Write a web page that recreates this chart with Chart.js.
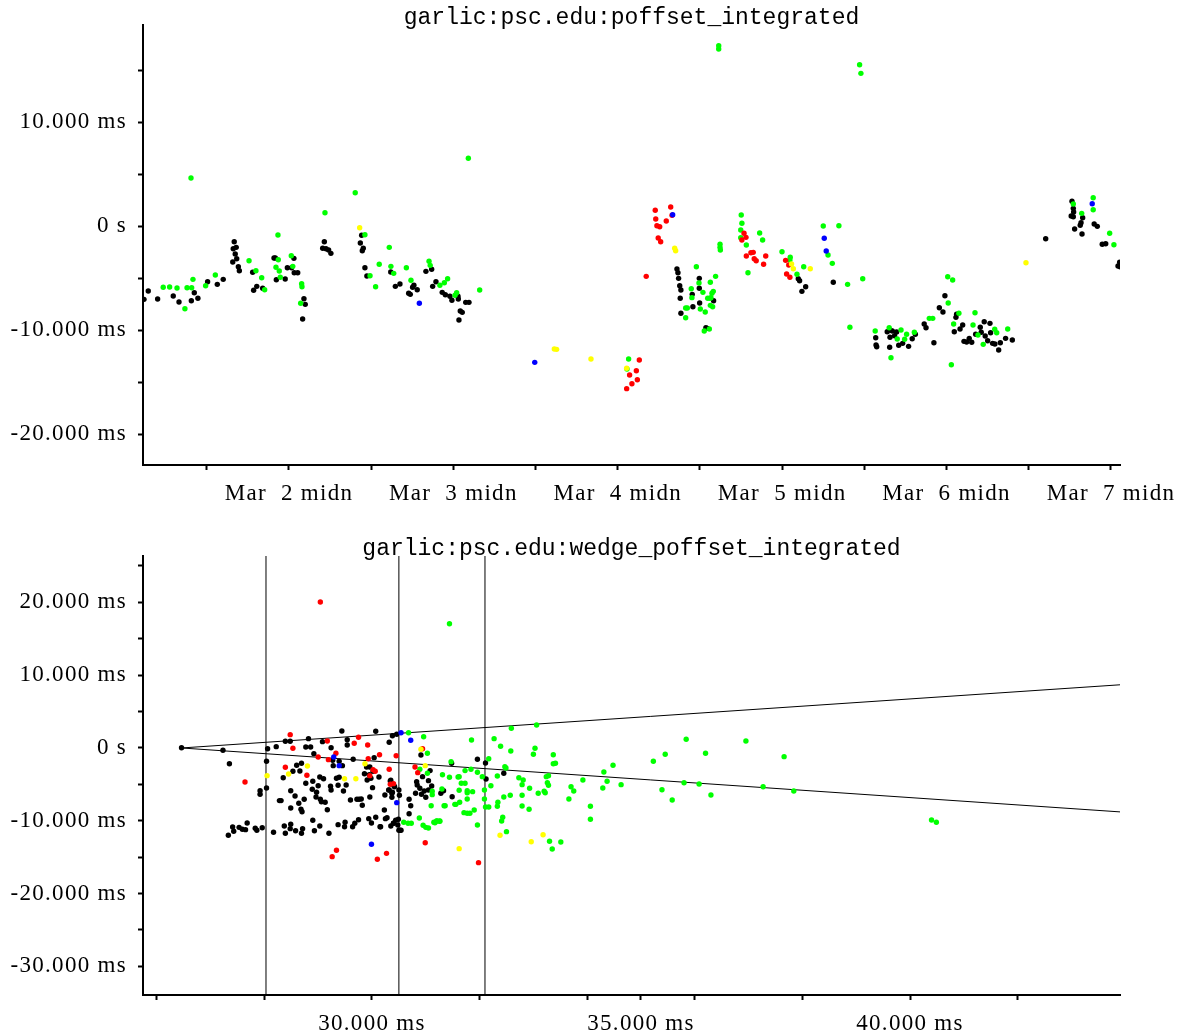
<!DOCTYPE html>
<html><head><meta charset="utf-8">
<script src="https://cdn.jsdelivr.net/npm/chart.js@4.4.1/dist/chart.umd.min.js"></script>
<style>
html,body{margin:0;padding:0;background:#fff;}
body{width:1179px;height:1035px;position:relative;overflow:hidden;}
canvas{position:absolute;left:0;}
#c1{top:0;width:1179px;height:510px;}
#c2{top:530px;width:1179px;height:505px;}
</style></head><body>
<canvas id="c1" width="1179" height="510"></canvas>
<canvas id="c2" width="1179" height="505"></canvas>
<script>
// ---------- top chart: time (days since Mar 1 00:00) vs offset (ms) ----------
const topTitle = "garlic:psc.edu:poffset_integrated";
const topXRange = [0.112, 6.055];
const topYRange = [-22.98, 19.33];
const topXTicks = [0.5,1,1.5,2,2.5,3,3.5,4,4.5,5,5.5,6];
const topXLabelValues = [1,2,3,4,5,6];
const topXLabels = ["Mar  2 midn","Mar  3 midn","Mar  4 midn","Mar  5 midn","Mar  6 midn","Mar  7 midn"];
const topYTicks = [-20,-15,-10,-5,0,5,10,15];
const topYLabelValues = [-20,-10,0,10];
const topYLabels = ["-20.000 ms","-10.000 ms","0 s","10.000 ms"];

const topBlack = [
[0.118,-7.05],[0.144,-6.25],[0.201,-7.02],[0.296,-6.73],[0.331,-7.31],[0.406,-7.18],[0.424,-6.41],[0.446,-6.95],[0.505,-5.36],[0.564,-5.61],[0.600,-5.13],[0.667,-1.51],[0.661,-2.18],[0.679,-2.05],[0.673,-2.69],[0.682,-3.14],[0.658,-3.46],[0.692,-3.91],[0.698,-4.30],[0.779,-4.45],[0.804,-5.80],[0.785,-6.18],[0.840,-5.99],[0.909,-3.08],[0.917,-3.08],[0.923,-5.16],[0.977,-5.10],[0.990,-4.01],[1.016,-4.01],[1.030,-3.11],[1.032,-4.49],[1.053,-4.49],[1.083,-8.94],[1.091,-6.99],[1.099,-7.53],[1.215,-1.51],[1.205,-2.14],[1.225,-2.18],[1.241,-2.31],[1.255,-2.63],[1.442,-0.89],[1.434,-1.63],[1.452,-2.14],[1.446,-2.38],[1.462,-4.01],[1.474,-4.81],[1.619,-4.42],[1.647,-5.80],[1.675,-5.58],[1.728,-6.47],[1.738,-6.57],[1.752,-5.89],[1.760,-5.70],[1.780,-6.13],[1.833,-4.36],[1.868,-4.16],[1.874,-5.80],[1.894,-5.36],[1.932,-6.38],[1.951,-6.61],[1.979,-6.76],[1.991,-7.14],[2.028,-6.76],[2.030,-7.02],[2.034,-9.04],[2.042,-8.17],[2.054,-8.30],[2.075,-7.34],[2.095,-7.34],
[3.360,-4.13],[3.366,-4.49],[3.370,-5.03],[3.377,-5.74],[3.384,-6.15],[3.380,-6.95],[3.384,-8.39],[3.453,-6.57],[3.457,-7.76],[3.496,-5.03],[3.496,-5.99],[3.498,-7.40],[3.536,-9.78],[3.544,-9.84],[3.583,-7.18],[4.098,-5.07],[4.106,-5.26],[4.143,-5.84],[4.120,-6.28],[4.311,-5.41],[4.569,-10.74],[4.571,-11.44],[4.575,-11.61],
[4.639,-10.16],[4.656,-10.00],[4.670,-10.10],[4.696,-10.19],[4.656,-10.70],[4.684,-10.55],[4.654,-11.66],[4.709,-11.47],[4.733,-11.28],[4.769,-11.57],[4.791,-10.84],[4.810,-10.41],[4.864,-9.42],[4.875,-9.78],[4.923,-11.22],[4.956,-7.86],[4.978,-8.27],[4.990,-6.70],[5.061,-8.49],[5.057,-8.78],[5.098,-9.52],[5.082,-9.90],[5.047,-10.16],[5.106,-11.09],[5.122,-11.15],[5.138,-10.80],[5.153,-11.18],[5.177,-10.41],[5.205,-9.74],[5.211,-10.22],[5.229,-9.20],[5.264,-9.36],[5.235,-10.58],[5.250,-11.03],[5.268,-10.26],[5.280,-11.28],[5.294,-11.35],[5.317,-11.92],[5.327,-11.22],[5.359,-10.80],[5.400,-10.96],
[5.603,-1.22],[5.763,2.38],[5.771,1.70],[5.773,1.35],[5.758,0.96],[5.771,0.89],[5.828,0.80],[5.818,0.32],[5.813,0.07],[5.779,-0.29],[5.824,-0.77],[5.898,0.19],[5.917,-0.03],[5.947,-1.76],[5.968,-1.70],[6.053,-3.49],[6.043,-3.85],[6.056,-3.92]
];
const topGreen = [
[0.404,4.62],[0.235,-5.89],[0.274,-5.87],[0.319,-5.96],[0.367,-7.95],[0.380,-5.93],[0.408,-5.93],[0.416,-5.13],[0.493,-5.74],[0.552,-4.71],[0.757,-3.34],[0.799,-4.30],[0.834,-4.97],[0.852,-6.13],[0.933,-0.87],[0.935,-3.24],[0.921,-3.97],[0.941,-4.33],[0.947,-4.93],[1.014,-2.86],[1.023,-3.88],[1.077,-5.55],[1.079,-5.84],[1.071,-7.43],[1.219,1.28],[1.403,3.20],[1.462,-0.84],[1.493,-4.78],[1.527,-5.84],[1.549,-3.68],[1.610,-2.05],[1.620,-3.88],[1.637,-4.55],[1.714,-4.01],[1.742,-5.22],[1.852,-3.39],[1.859,-3.78],[1.918,-5.70],[1.945,-5.45],[1.965,-5.07],[2.010,-6.66],[2.020,-6.41],[2.091,6.51],[2.160,-6.15],
[3.066,-12.79],[3.056,-13.75],[3.614,17.34],[3.614,17.02],[4.471,15.51],[4.479,14.68],[3.622,-1.76],[3.624,-2.31],[3.622,-2.05],[3.478,-3.91],[3.595,-4.84],[3.563,-5.41],[3.494,-5.48],[3.447,-6.03],[3.518,-6.38],[3.581,-6.28],[3.573,-6.47],[3.451,-6.89],[3.547,-6.95],[3.561,-6.95],[3.567,-6.89],[3.563,-7.63],[3.577,-7.76],[3.413,-7.88],[3.423,-7.88],[3.502,-7.98],[3.532,-8.27],[3.413,-8.82],[3.526,-10.10],[3.557,-9.90],[3.751,1.06],[3.755,0.26],[3.748,-0.38],[3.748,-1.13],[3.782,-1.83],[3.792,-4.49],[3.863,-0.67],[3.881,-1.35],[3.999,-2.47],[4.049,-3.01],[4.047,-3.27],[4.090,-4.64],[4.131,-3.91],[4.250,0.00],[4.345,0.03],[4.279,-2.79],[4.305,-3.59],[4.398,-5.61],[4.490,-5.07],[4.412,-9.74],[4.566,-10.10],
[4.651,-9.78],[4.662,-12.66],[4.723,-10.00],[4.700,-10.87],[4.757,-10.41],[4.745,-10.89],[4.804,-10.22],[4.895,-8.88],[4.916,-8.88],[5.007,-4.88],[5.037,-5.19],[5.010,-7.40],[5.075,-8.39],[5.043,-9.42],[5.029,-13.34],[5.173,-8.34],[5.161,-9.52],[5.191,-10.48],[5.223,-11.38],[5.293,-9.93],[5.305,-10.26],[5.372,-9.90],[5.892,2.72],[5.892,1.57],[5.771,2.12],[5.822,1.22],[5.992,-0.70],[6.018,-1.80]
];
const topRed = [
[3.054,-15.64],[3.086,-15.16],[3.119,-14.78],[3.072,-14.33],[3.113,-13.91],[3.131,-12.88],[3.173,-4.84],[3.228,1.51],[3.231,0.67],[3.238,0.03],[3.255,-0.07],[3.246,-1.15],[3.261,-1.51],[3.295,0.48],[3.322,1.83],[3.330,1.03],[3.768,-0.70],[3.755,-1.35],[3.780,-1.09],[3.810,-2.57],[3.824,-2.53],[3.782,-2.88],[3.830,-3.14],[3.842,-3.34],[3.900,-2.88],[3.887,-3.68],[4.021,-3.30],[4.040,-3.75],[4.027,-4.62],[4.047,-4.93]
];
const topYellow = [
[1.430,-0.16],[2.614,-11.83],[2.628,-11.86],[2.837,-12.79],[3.054,-13.68],[3.346,-2.14],[3.352,-2.38],[4.068,-4.11],[4.171,-4.11],[5.483,-3.53],[4.057,-3.65]
];
const topBlue = [
[1.793,-7.43],[2.495,-13.11],[3.334,1.09],[4.256,-1.18],[4.268,-2.40],[5.886,2.14]
];

// ---------- bottom chart: delay (ms) vs offset (ms) ----------
const botTitle = "garlic:psc.edu:wedge_poffset_integrated";
const botXRange = [25.744, 43.903];
const botYRange = [-33.93, 26.37];
const botXTicks = [26,28,30,32,34,35,36,38,40,42];
const botXLabelValues = [30,35,40];
const botXLabels = ["30.000 ms","35.000 ms","40.000 ms"];
const botYTicks = [-30,-25,-20,-15,-10,-5,0,5,10,15,20,25];
const botYLabelValues = [-30,-20,-10,0,10,20];
const botYLabels = ["-30.000 ms","-20.000 ms","-10.000 ms","0 s","10.000 ms","20.000 ms"];
const markerDelays = [28.03, 30.5, 32.1];
const wedgeUpper = [[26.46,0],[43.903,8.68]];
const wedgeLower = [[26.46,0],[43.903,-8.78]];

const botBlack = [
[26.46,0.04],[27.23,-0.32],[27.35,-2.16],[28.04,-1.83],[28.06,-0.1],[28.22,0.18],[28.39,0.92],[28.48,0.92],[28.82,1.28],[28.77,0.14],[28.86,0.14],[28.92,-0.78],[29.08,0.87],[29.44,2.34],[29.54,1.14],[29.54,0.41],[29.24,0.04],[29.27,-1.69],[29.28,-2.43],[29.39,-1.83],[29.45,-2.43],[29.65,-1.55],[30.07,2.29],[30.32,0.78],[30.38,1.69],[30.46,1.88],[30.04,-1.33],[29.90,-2.61],[29.96,-2.61],[30.02,-3.2],[30.13,-3.98],[29.86,-3.53],[29.95,-3.67],[29.91,-4.4],[29.98,-4.16],[30.34,-4.53],[30.42,-5.32],[30.50,-5.77],[30.51,-6.5],[30.32,-5.77],[30.37,-6.22],[30.24,-6.46],[30.23,-8.52],[30.28,-9.57],[30.25,-9.71],[30.40,-10.34],[30.44,-9.93],[30.49,-9.79],[30.50,-11.31],[30.54,-11.31],[30.35,-10.71],[30.16,-10.81],[30.07,-9.52],[29.94,-9.71],[29.99,-10.3],[29.75,-9.85],[29.68,-10.34],[29.64,-10.81],[29.50,-10.21],[29.49,-10.81],[29.37,-10.53],[29.20,-11.72],[29.03,-10.71],[28.93,-11.36],[28.90,-9.93],[28.71,-11.08],[28.69,-11.72],[28.58,-11.36],[28.49,-10.48],[28.48,-11.08],[28.39,-11.72],[28.37,-10.71],[28.17,-11.58],[27.96,-10.95],[27.86,-11.31],[27.83,-11.03],[27.68,-10.3],[27.65,-11.22],[27.59,-11.17],[27.53,-10.9],[27.43,-11.44],[27.41,-10.85],[27.33,-11.99],
[27.92,-5.87],[27.92,-6.36],[28.04,-5.49],[28.28,-7.23],[28.31,-7.23],[28.35,-4.08],[28.49,-5.87],[28.53,-3.2],[28.60,-2.38],[28.69,-2.1],[28.66,-3.16],[28.57,-6.59],[28.64,-7.6],[28.49,-8.24],[28.74,-7.05],[28.68,-8.42],[28.70,-8.75],[28.77,-4.85],[28.90,-4.58],[28.89,-5.67],[28.97,-6.09],[29.03,-3.98],[29.10,-4.22],[29.00,-5.18],[28.96,-6.73],[29.04,-7.05],[29.06,-7.38],[29.13,-7.46],[29.17,-8.48],[29.23,-5.26],[29.24,-5.77],[29.34,-4.16],[29.39,-4.02],[29.37,-5.12],[29.47,-5.91],[29.52,-5.08],[29.60,-7.14],[29.72,-7.05],[29.76,-7.05],[29.80,-7.0],[29.82,-7.87],[29.96,-6.73],[30.01,-5.45],
[30.69,-7.05],[30.72,-7.93],[30.69,-9.03],[30.81,-6.22],[30.83,-4.63],[30.84,-5.08],[30.92,-6.36],[30.89,-5.54],[31.00,-6.77],[30.97,-5.91],[31.05,-5.77],[30.94,-3.94],[31.05,-4.49],[31.08,-3.11],[30.91,-0.96],[31.11,-5.22],[31.28,-6.22],[31.48,-2.1],[31.49,-6.69],[31.33,-5.87],[31.96,-1.55],[32.11,-2.06],[32.12,-4.26],[32.45,-3.48],[30.35,-4.44],[30.38,-4.95],[30.41,-5.22],[30.31,-5.77],[30.38,-6.09],[30.37,-6.77],[30.48,-10.58],[30.52,-11.31],[30.40,-10.34],[30.15,-10.81]
];
const botGreen = [
[31.44,17.07],[30.68,2.1],[30.96,1.55],[31.03,-0.73],[30.89,-2.93],[31.03,-3.48],[31.31,-3.67],[31.44,-4.02],[31.60,-3.98],[31.47,-1.88],[31.12,-5.95],[31.12,-6.41],[31.30,-5.63],[31.34,-7.93],[31.10,-7.93],[31.54,-7.74],[30.88,-9.62],[30.95,-10.62],[31.0,-10.9],[31.05,-11.0],[30.59,-10.21],[30.67,-10.34],[30.73,-10.34],[31.15,-10.21],[31.20,-10.03],[31.26,-10.07],
[31.85,1.1],[32.27,1.28],[32.39,0.23],[32.58,-0.41],[32.59,2.71],[33.06,3.16],[33.03,-0.04],[33.0,-0.87],[33.37,-0.92],[33.37,-2.16],[33.41,-2.1],[32.17,-1.47],[32.47,-2.57],[32.49,-2.75],[31.96,-3.34],[31.73,-3.11],[31.84,-2.93],[31.62,-3.94],[32.05,-3.94],[32.33,-3.85],[31.66,-4.85],[31.73,-4.85],[31.77,-5.87],[31.77,-6.14],[31.87,-6.0],[31.62,-5.81],[32.21,-5.18],[32.09,-5.77],[32.73,-4.08],[32.81,-4.4],[32.79,-5.04],[32.93,-5.54],[33.24,-3.94],[33.28,-3.8],[33.26,-4.77],[33.28,-5.12],[33.09,-6.22],[33.20,-5.95],[33.22,-6.14],[32.57,-6.5],[32.45,-6.73],[32.34,-7.46],[32.33,-8.01],[32.09,-7.0],[32.11,-8.1],[32.17,-8.1],[32.79,-6.5],[32.79,-7.97],[32.92,-8.42],[31.77,-7.0],[31.63,-7.46],[31.56,-7.74],[31.36,-7.93],[31.71,-8.88],[31.77,-8.97],[31.82,-8.97],[31.90,-8.52],[31.96,-10.58],[32.43,-9.52],[32.41,-10.03],[32.50,-11.49],[31.21,-10.03],[31.26,-10.03],[31.17,-10.26],[33.30,-12.82],[33.35,-13.87],[33.51,-12.91],[33.70,-5.32],[33.75,-5.91],[33.66,-7.0],[33.92,-4.4],[34.06,-8.01],[34.06,-9.79],[34.29,-5.49],[34.31,-3.3],[34.37,-4.58],[34.48,-2.38],[34.63,-5.04],[35.23,-1.83],[35.45,-0.87],[35.39,-5.73],[35.58,-7.14],[35.84,1.19],[35.80,-4.77],[36.08,-4.95],[36.20,-0.73],[36.30,-6.46],[36.95,0.96],[37.66,-1.19],[37.27,-5.32],[37.84,-5.91],[40.40,-9.89],[40.49,-10.21]
];
const botRed = [
[29.04,20.05],[28.48,1.83],[28.53,-0.04],[29.17,0.96],[29.0,-1.24],[29.33,-0.73],[29.19,-1.6],[29.67,0.64],[29.75,1.47],[29.92,0.41],[29.93,-1.47],[30.14,-0.92],[30.45,-1.06],[30.94,-0.1],[30.80,-2.61],[30.85,-3.39],[30.32,-2.93],[30.40,-4.9],[30.34,-4.99],[30.06,-3.2],[30.02,-2.98],[29.96,-3.8],[28.79,-3.75],[28.39,-2.65],[27.64,-4.67],[30.99,-13.01],[29.26,-14.93],[29.34,-14.05],[30.10,-15.29],[30.27,-14.47],[31.98,-15.75]
];
const botYellow = [
[28.05,-3.8],[28.45,-3.57],[28.80,-2.47],[29.49,-4.22],[29.70,-4.22],[29.87,-2.16],[30.91,-0.18],[30.99,-2.43],[31.62,-13.83],[32.38,-11.99],[33.18,-11.91],[32.96,-12.87]
];
const botBlue = [
[29.29,-1.24],[29.39,-2.43],[30.54,2.1],[30.72,1.06],[30.46,-7.51],[29.99,-13.23]
];

// ---------- styling ----------
const TICK_FONT = {family: "'Liberation Serif', 'Times New Roman', serif", size: 23};
const TITLE_FONT = "23px 'Liberation Mono', 'Courier New', monospace";
const COLORS = {black:'#000000', green:'#00ff00', red:'#ff0000', yellow:'#ffff00', blue:'#0000ff'};
const toXY = arr => arr.map(p => ({x:p[0], y:p[1]}));

function pts(data, color){
  return {data: toXY(data), backgroundColor: color, borderWidth: 0, pointRadius: 2.7, pointHoverRadius: 2.7, order: 1};
}
function line(data){
  return {data: toXY(data), showLine: true, borderColor:'#000', borderWidth: 1, pointRadius: 0, fill: false, order: 10};
}
function axis(range, ticks, labVals, labs, fitFn, pad){
  return {
    type:'linear', min: range[0], max: range[1],
    afterBuildTicks: s => { s.ticks = ticks.map(v => ({value: v})); },
    afterFit: fitFn,
    border: {display:true, color:'#000', width:2},
    grid: {display:true, drawOnChartArea:false, drawTicks:true, tickLength:5, tickWidth:2, tickColor:'#000'},
    ticks: {color:'#000', font: TICK_FONT, autoSkip:false, maxRotation:0, minRotation:0, padding: pad,
      callback: v => { const i = labVals.indexOf(v); return i >= 0 ? labs[i] : ''; }}
  };
}
const spacingPlugin = {
  id: 'spacing',
  beforeDraw(chart){ chart.ctx.letterSpacing = '1.3px'; }
};
const titlePlugin = {
  id: 'ttl',
  afterDraw(chart, args, opts){
    const ctx = chart.ctx, a = chart.chartArea;
    ctx.save();
    ctx.letterSpacing = '0px';
    ctx.font = TITLE_FONT; ctx.fillStyle = '#000'; ctx.textAlign = 'center'; ctx.textBaseline = 'alphabetic';
    ctx.fillText(opts.text, (a.left + a.right) / 2, opts.y);
    ctx.restore();
  }
};

function makeChart(id, title, datasets, xAx, yAx, padTop, titleY){
  return new Chart(document.getElementById(id), {
    type: 'scatter',
    data: {datasets},
    options: {
      responsive: false, animation: false, devicePixelRatio: 1, events: [],
      layout: {padding: {top: padTop, right: 59, left: 0, bottom: 0}},
      plugins: {legend: {display:false}, tooltip: {enabled:false}, ttl: {text: title, y: titleY}},
      scales: {x: xAx, y: yAx}
    },
    plugins: [spacingPlugin, titlePlugin]
  });
}

makeChart('c1', topTitle, [
    pts(topBlue, COLORS.blue), pts(topYellow, COLORS.yellow), pts(topRed, COLORS.red),
    pts(topGreen, COLORS.green), pts(topBlack, COLORS.black)
  ],
  axis(topXRange, topXTicks, topXLabelValues, topXLabels, s => { s.height = 45; }, 10),
  axis(topYRange, topYTicks, topYLabelValues, topYLabels, s => { s.width = 143; }, 11),
  25, 24);

const botSets = [
  pts(botBlue, COLORS.blue), pts(botYellow, COLORS.yellow), pts(botRed, COLORS.red),
  pts(botGreen, COLORS.green), pts(botBlack, COLORS.black),
  line(wedgeUpper), line(wedgeLower)
];
markerDelays.forEach(d => botSets.push(line([[d, botYRange[0]], [d, botYRange[1]]])));
makeChart('c2', botTitle, botSets,
  axis(botXRange, botXTicks, botXLabelValues, botXLabels, s => { s.height = 40; }, 10),
  axis(botYRange, botYTicks, botYLabelValues, botYLabels, s => { s.width = 143; }, 11),
  26, 25);
</script>
</body></html>
